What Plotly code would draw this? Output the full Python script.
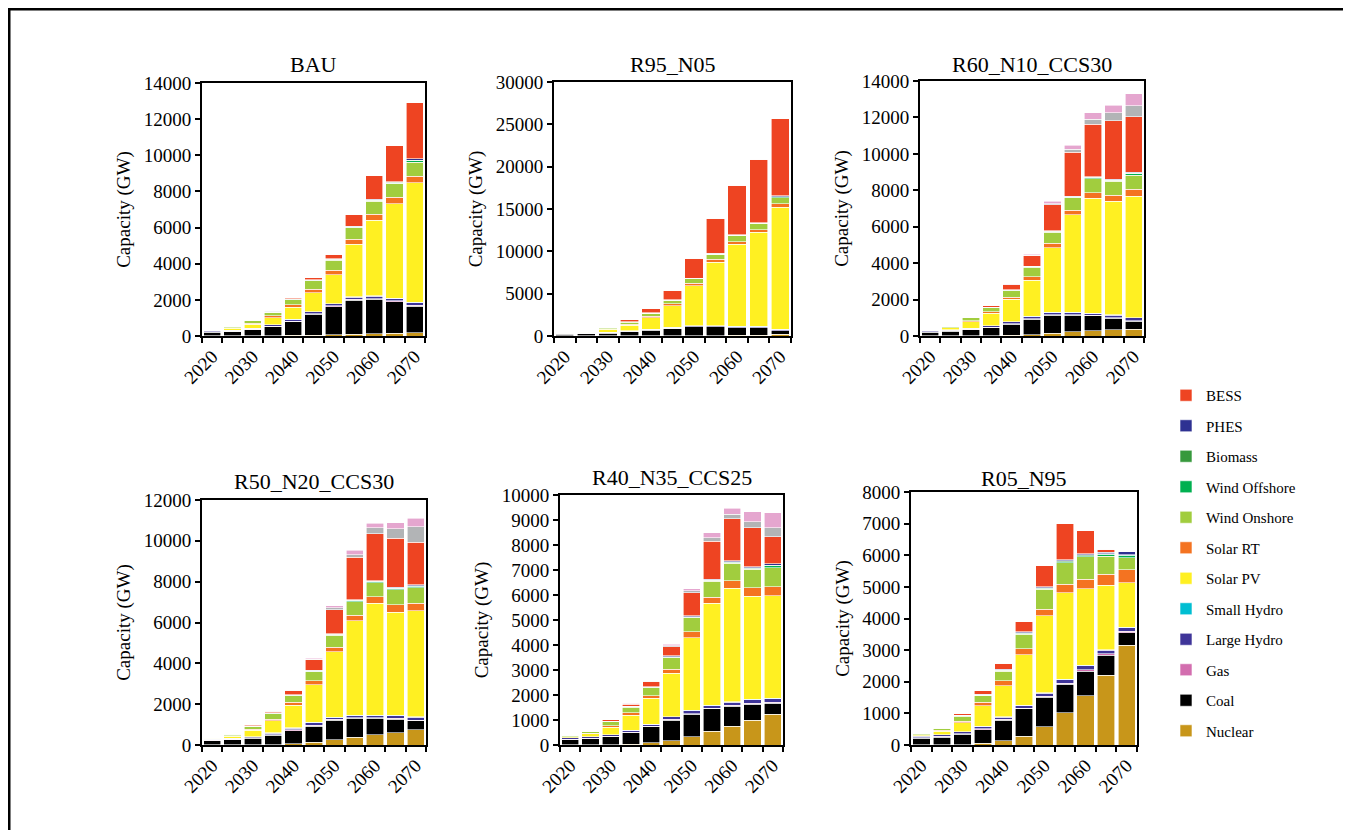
import plotly.graph_objects as go

# ---------------- data ----------------
YEARS = [2020, 2025, 2030, 2035, 2040, 2045, 2050, 2055, 2060, 2065, 2070]
X_TICKS = [2020, 2030, 2040, 2050, 2060, 2070]
TECHS = ["Nuclear", "Coal", "Gas", "Large Hydro", "Small Hydro", "Solar PV", "Solar RT",
         "Wind Onshore", "Wind Offshore", "Biomass", "PHES", "BESS", "Coal CCS", "Gas CCS"]
SCENARIOS = ["BAU", "R95_N05", "R60_N10_CCS30", "R50_N20_CCS30", "R40_N35_CCS25", "R05_N95"]
Y_MAX = [14000, 30000, 14000, 12000, 10000, 8000]
Y_DTICK = [2000, 5000, 2000, 2000, 1000, 1000]

# BAU
bau_nuclear = [7, 10, 15, 20, 30, 40, 60, 100, 130, 150, 170]
bau_coal = [205, 240, 340, 500, 760, 1160, 1570, 1890, 1900, 1750, 1490]
bau_gas = [25, 25, 25, 30, 30, 35, 40, 40, 40, 40, 40]
bau_lhydro = [46, 50, 55, 70, 90, 100, 110, 120, 130, 140, 145]
bau_shydro = [5, 6, 6, 8, 10, 12, 15, 15, 15, 15, 15]
bau_pv = [35, 110, 220, 390, 670, 1050, 1600, 2900, 4180, 5230, 6610]
bau_rt = [5, 20, 50, 110, 130, 190, 240, 290, 350, 350, 370]
bau_won = [38, 70, 130, 190, 300, 460, 560, 640, 700, 740, 770]
bau_woff = [0, 0, 5, 10, 15, 20, 30, 30, 40, 50, 80]
bau_bio = [10, 12, 15, 17, 20, 25, 30, 30, 30, 30, 30]
bau_phes = [5, 5, 10, 15, 20, 25, 30, 30, 40, 40, 80]
bau_bess = [0, 5, 10, 40, 55, 110, 230, 620, 1300, 1990, 3100]
bau_coalccs = [0, 0, 0, 0, 0, 0, 0, 0, 0, 0, 0]
bau_gasccs = [0, 0, 0, 0, 0, 0, 0, 0, 0, 0, 0]

# R95_N05
r95_nuclear = [7, 10, 10, 10, 15, 20, 30, 50, 80, 100, 200]
r95_coal = [205, 240, 330, 480, 680, 880, 1060, 1030, 880, 860, 420]
r95_gas = [25, 25, 25, 30, 30, 30, 30, 30, 30, 30, 30]
r95_lhydro = [46, 50, 55, 70, 80, 90, 100, 110, 120, 130, 140]
r95_shydro = [5, 6, 6, 8, 10, 10, 12, 15, 15, 15, 15]
r95_pv = [35, 110, 350, 700, 1350, 2560, 4720, 7500, 9700, 11090, 14400]
r95_rt = [5, 20, 60, 100, 190, 200, 270, 320, 330, 320, 390]
r95_won = [38, 70, 150, 250, 310, 440, 540, 600, 680, 700, 750]
r95_woff = [0, 0, 5, 10, 15, 20, 25, 30, 40, 50, 80]
r95_bio = [10, 12, 15, 17, 20, 25, 25, 25, 25, 25, 25]
r95_phes = [5, 5, 10, 15, 20, 25, 30, 40, 50, 60, 100]
r95_bess = [0, 5, 30, 210, 480, 1100, 2350, 4150, 5850, 7520, 9100]
r95_coalccs = [0, 0, 0, 0, 0, 0, 0, 0, 0, 0, 0]
r95_gasccs = [0, 0, 0, 0, 0, 0, 0, 0, 0, 0, 0]

# R60_N10_CCS30
r60_nuclear = [7, 10, 15, 20, 30, 80, 150, 220, 290, 330, 380]
r60_coal = [205, 240, 320, 430, 620, 850, 1000, 930, 820, 640, 440]
r60_gas = [25, 25, 25, 30, 30, 30, 30, 30, 30, 30, 30]
r60_lhydro = [46, 50, 55, 70, 90, 100, 100, 100, 100, 140, 150]
r60_shydro = [5, 6, 6, 8, 10, 12, 15, 15, 15, 15, 15]
r60_pv = [35, 110, 360, 690, 1230, 2000, 3550, 5360, 6310, 6250, 6660]
r60_rt = [5, 20, 60, 90, 130, 180, 240, 250, 310, 330, 370]
r60_won = [38, 70, 150, 210, 340, 520, 600, 690, 770, 750, 780]
r60_woff = [0, 0, 5, 10, 10, 20, 30, 30, 40, 50, 80]
r60_bio = [10, 12, 15, 17, 20, 25, 25, 25, 25, 25, 25]
r60_phes = [5, 5, 10, 15, 20, 25, 30, 30, 40, 40, 50]
r60_bess = [0, 5, 20, 80, 280, 570, 1440, 2400, 2880, 3220, 3050]
r60_coalccs = [0, 0, 0, 0, 10, 30, 60, 170, 280, 440, 600]
r60_gasccs = [0, 0, 0, 0, 10, 60, 140, 220, 340, 420, 680]

# R50_N20_CCS30
r50_nuclear = [7, 10, 15, 20, 60, 130, 250, 370, 500, 610, 740]
r50_coal = [205, 240, 310, 450, 650, 800, 970, 940, 810, 660, 440]
r50_gas = [25, 25, 25, 30, 30, 30, 30, 30, 30, 30, 30]
r50_lhydro = [46, 50, 55, 80, 90, 140, 90, 100, 100, 140, 150]
r50_shydro = [5, 6, 6, 8, 10, 12, 15, 15, 15, 15, 15]
r50_pv = [35, 110, 300, 600, 1110, 1840, 3220, 4620, 5490, 5050, 5210]
r50_rt = [5, 20, 50, 80, 140, 190, 210, 290, 320, 360, 360]
r50_won = [38, 70, 160, 260, 320, 450, 580, 660, 680, 730, 760]
r50_woff = [0, 0, 5, 10, 10, 20, 30, 30, 40, 50, 80]
r50_bio = [10, 12, 15, 17, 20, 25, 25, 25, 25, 25, 25]
r50_phes = [5, 5, 10, 15, 20, 30, 30, 30, 40, 50, 50]
r50_bess = [0, 5, 40, 70, 200, 500, 1170, 2090, 2300, 2410, 2060]
r50_coalccs = [0, 0, 0, 10, 20, 30, 110, 130, 280, 460, 780]
r50_gasccs = [0, 0, 0, 20, 30, 50, 100, 210, 240, 300, 400]

# R40_N35_CCS25
r40_nuclear = [7, 10, 20, 30, 90, 170, 330, 560, 760, 1000, 1240]
r40_coal = [205, 240, 310, 460, 640, 830, 900, 890, 800, 640, 440]
r40_gas = [25, 25, 25, 30, 30, 30, 30, 30, 30, 30, 30]
r40_lhydro = [46, 50, 55, 70, 70, 95, 110, 100, 130, 140, 150]
r40_shydro = [5, 6, 6, 8, 10, 10, 15, 15, 15, 15, 15]
r40_pv = [35, 110, 300, 600, 1030, 1730, 2900, 4070, 4530, 4130, 4090]
r40_rt = [5, 20, 60, 100, 110, 170, 240, 240, 310, 340, 370]
r40_won = [38, 70, 150, 220, 310, 460, 560, 640, 700, 730, 760]
r40_woff = [0, 0, 5, 10, 10, 20, 30, 30, 40, 50, 80]
r40_bio = [10, 12, 15, 17, 20, 25, 25, 25, 25, 25, 25]
r40_phes = [5, 5, 10, 15, 20, 25, 25, 30, 40, 40, 50]
r40_bess = [0, 5, 50, 80, 200, 370, 920, 1530, 1670, 1550, 1080]
r40_coalccs = [0, 0, 0, 10, 20, 40, 80, 130, 180, 240, 360]
r40_gasccs = [0, 0, 0, 20, 20, 50, 90, 200, 240, 400, 600]

# R05_N95
r05_nuclear = [7, 10, 15, 50, 130, 280, 580, 1020, 1560, 2200, 3150]
r05_coal = [205, 240, 320, 440, 650, 860, 930, 900, 780, 640, 400]
r05_gas = [25, 25, 25, 30, 30, 30, 30, 30, 40, 40, 40]
r05_lhydro = [46, 50, 60, 70, 70, 80, 95, 110, 120, 120, 120]
r05_shydro = [5, 6, 6, 8, 10, 10, 15, 15, 15, 15, 15]
r05_pv = [35, 110, 270, 650, 990, 1600, 2430, 2740, 2420, 2030, 1400]
r05_rt = [5, 20, 60, 100, 150, 190, 220, 270, 300, 360, 420]
r05_won = [38, 70, 160, 220, 310, 460, 620, 680, 710, 570, 380]
r05_woff = [0, 0, 5, 10, 10, 20, 30, 30, 40, 50, 70]
r05_bio = [10, 12, 15, 17, 20, 25, 25, 25, 25, 25, 25]
r05_phes = [5, 5, 10, 15, 20, 25, 30, 40, 40, 40, 90]
r05_bess = [0, 5, 50, 110, 200, 320, 670, 1140, 720, 100, 0]
r05_coalccs = [0, 0, 0, 0, 0, 0, 0, 0, 0, 0, 0]
r05_gasccs = [0, 0, 0, 0, 0, 0, 0, 0, 0, 0, 0]

SERIES = [
    [bau_nuclear, bau_coal, bau_gas, bau_lhydro, bau_shydro, bau_pv, bau_rt, bau_won,
     bau_woff, bau_bio, bau_phes, bau_bess, bau_coalccs, bau_gasccs],
    [r95_nuclear, r95_coal, r95_gas, r95_lhydro, r95_shydro, r95_pv, r95_rt, r95_won,
     r95_woff, r95_bio, r95_phes, r95_bess, r95_coalccs, r95_gasccs],
    [r60_nuclear, r60_coal, r60_gas, r60_lhydro, r60_shydro, r60_pv, r60_rt, r60_won,
     r60_woff, r60_bio, r60_phes, r60_bess, r60_coalccs, r60_gasccs],
    [r50_nuclear, r50_coal, r50_gas, r50_lhydro, r50_shydro, r50_pv, r50_rt, r50_won,
     r50_woff, r50_bio, r50_phes, r50_bess, r50_coalccs, r50_gasccs],
    [r40_nuclear, r40_coal, r40_gas, r40_lhydro, r40_shydro, r40_pv, r40_rt, r40_won,
     r40_woff, r40_bio, r40_phes, r40_bess, r40_coalccs, r40_gasccs],
    [r05_nuclear, r05_coal, r05_gas, r05_lhydro, r05_shydro, r05_pv, r05_rt, r05_won,
     r05_woff, r05_bio, r05_phes, r05_bess, r05_coalccs, r05_gasccs],
]

# ---------------- styles ----------------
COLORS = ["#C8961A", "#000000", "#D36EAF", "#3F3599", "#00BED2", "#FFF022", "#F47321",
          "#A1CD3E", "#00B050", "#37993C", "#2E3192", "#EE4422", "#B2B4B6", "#E5A6CF"]
IN_LEGEND = [True] * 12 + [False, False]
FONT = "Liberation Serif"

FIG_W, FIG_H = 1343, 822
OFF_X, OFF_Y = 8, 8
# panel boxes in screen pixels: (left, right, top, bottom)
BOXES = [(202, 425, 83, 336), (554, 791, 82, 336), (920, 1144, 81, 336),
         (202, 426, 500, 745), (560, 783, 495, 745), (911, 1137, 492, 745)]
TITLE_Y = [65, 65, 65, 482, 477, 478]


def px(x):
    return (x - OFF_X) / FIG_W


def py(y):
    return 1 - (y - OFF_Y) / FIG_H


fig = go.Figure()
layout = dict(
    template="none",
    width=FIG_W, height=FIG_H, autosize=False,
    margin=dict(l=0, r=0, t=0, b=0, pad=0),
    paper_bgcolor="white", plot_bgcolor="white",
    barmode="stack", bargap=0.15,
    font=dict(family=FONT, size=19, color="black"),
    showlegend=True,
    legend=dict(x=px(1166), y=py(379), xanchor="left", yanchor="top",
                traceorder="grouped", tracegroupgap=8,
                font=dict(family=FONT, size=15, color="black"),
                bgcolor="rgba(0,0,0,0)", borderwidth=0, itemwidth=30),
)

annotations = []
for i, (name, series) in enumerate(zip(SCENARIOS, SERIES)):
    ax = "" if i == 0 else str(i + 1)
    for t, (tech, vals, col) in enumerate(zip(TECHS, series, COLORS)):
        fig.add_trace(go.Bar(
            x=YEARS, y=vals, name=tech,
            marker=dict(color=col, line=dict(color="white", width=0.6)),
            xaxis="x" + ax, yaxis="y" + ax,
            legendgroup=tech, legendrank=100 - t,
            showlegend=(i == 0 and IN_LEGEND[t]),
        ))
    l, r, t_, b = BOXES[i]
    layout["xaxis" + ax] = dict(
        domain=[px(l), px(r)], anchor="y" + ax, automargin=False,
        range=[2017.5, 2072.5], tickmode="array", tickvals=X_TICKS,
        ticktext=[str(v) for v in X_TICKS], tickangle=-45, ticks="",
        tickfont=dict(family=FONT, size=19, color="black"),
        showline=True, linecolor="black", linewidth=2, mirror=True,
        showgrid=False, zeroline=False,
        minor=dict(tickmode="linear", tick0=2017.5, dtick=5, ticks="outside",
                   ticklen=5, tickwidth=1.5, tickcolor="black", showgrid=False),
    )
    layout["yaxis" + ax] = dict(
        domain=[py(b), py(t_)], anchor="x" + ax, automargin=False,
        range=[0, Y_MAX[i]], tick0=0, dtick=Y_DTICK[i], tickformat="d",
        ticks="outside", ticklen=5, tickwidth=1.5, tickcolor="black",
        tickfont=dict(family=FONT, size=19, color="black"),
        showline=True, linecolor="black", linewidth=2, mirror=True,
        showgrid=False, zeroline=False,
        title=dict(text="Capacity (GW)", font=dict(family=FONT, size=19, color="black"),
                   standoff=8),
    )
    annotations.append(dict(
        text=name, x=(px(l) + px(r)) / 2, y=py(TITLE_Y[i]), xref="paper", yref="paper",
        xanchor="center", yanchor="middle", showarrow=False,
        font=dict(family=FONT, size=22, color="black"),
    ))

layout["annotations"] = annotations
layout["shapes"] = [dict(type="rect", xref="paper", yref="paper",
                         x0=px(9), x1=px(1349), y0=-0.2, y1=py(9),
                         line=dict(color="black", width=3))]
fig.update_layout(**layout)
fig.write_html("out.html")
